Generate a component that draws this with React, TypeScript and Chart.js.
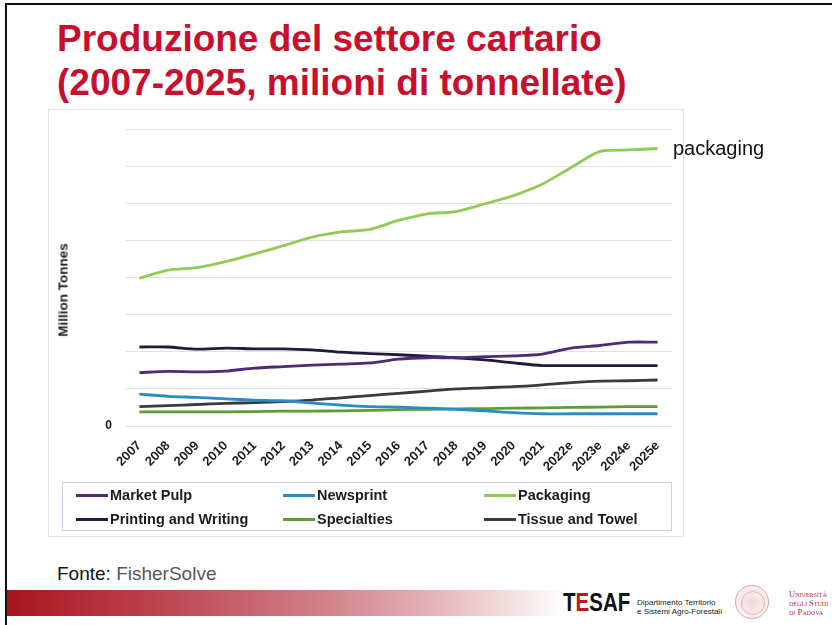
import React, { useEffect, useRef } from "react";
import { Chart, registerables } from "chart.js";

Chart.register(...registerables);

// ---- data (million tonnes) ----
const years = [
  "2007", "2008", "2009", "2010", "2011", "2012", "2013", "2014", "2015", "2016",
  "2017", "2018", "2019", "2020", "2021", "2022e", "2023e", "2024e", "2025e",
];
const marketPulp = [72, 73.5, 73, 74, 78, 80, 82, 83.5, 85, 90, 92, 92, 93.5, 94.5, 97, 105, 108.5, 113, 113];
const newsprint = [43, 40, 38.5, 36.5, 35, 34, 31, 28, 26, 25.5, 24, 22.5, 20.5, 18, 16.5, 16.5, 16.5, 16.5, 16.5];
const packaging = [199, 210, 213.5, 221.5, 232, 243, 254.5, 261.5, 265, 277, 286, 289, 299.5, 310.5, 326, 348.5, 370, 372, 374];
const printingWriting = [106.5, 106.5, 103.5, 105, 104, 104, 102.5, 99.5, 97.5, 96, 94, 92, 89, 85, 81.5, 81.5, 81.5, 81.5, 81.5];
const specialties = [19, 19, 19, 19, 19.5, 20, 20, 20.5, 21, 22, 22.5, 23, 23.5, 24, 24.5, 25, 25.5, 26, 26];
const tissueTowel = [26, 27.5, 29, 30.5, 31.5, 33, 35, 38, 41, 44, 47, 50, 51.5, 53, 55.5, 58.5, 60.5, 61, 62];
const yTicks = [0, 50, 100, 150, 200, 250, 300, 350, 400];

const seriesNames = ["Market Pulp", "Newsprint", "Packaging", "Printing and Writing", "Specialties", "Tissue and Towel"];
const seriesValues = [marketPulp, newsprint, packaging, printingWriting, specialties, tissueTowel];
const seriesColors = ["#4e2a78", "#2a8cc4", "#8fcb55", "#221a38", "#5c9e35", "#3a3a3a"];

const SANS = "'Liberation Sans', Arial, Helvetica, sans-serif";

export default function App() {
  const ref = useRef<HTMLCanvasElement>(null);

  useEffect(() => {
    if (!ref.current) return;
    const chart = new Chart(ref.current, {
      type: "line",
      data: {
        labels: years,
        datasets: seriesNames.map((name, i) => ({
          label: name,
          data: seriesValues[i],
          borderColor: seriesColors[i],
          backgroundColor: seriesColors[i],
          borderWidth: 2.8,
          pointRadius: 0,
          tension: 0.25,
          fill: false,
        })),
      },
      options: {
        responsive: false,
        animation: false,
        layout: { padding: { top: 17, right: 12, left: 0, bottom: 0 } },
        plugins: {
          legend: { display: false },
          tooltip: { enabled: false },
          title: { display: false },
        },
        scales: {
          x: {
            offset: true,
            grid: { display: false },
            border: { display: false },
            ticks: {
              autoSkip: false,
              maxRotation: 45,
              minRotation: 45,
              padding: 4,
              color: "#1c1c1c",
              font: { family: SANS, weight: "bold", size: 13 },
            },
            afterFit: (s: any) => {
              s.height = 114;
            },
          },
          y: {
            min: yTicks[0],
            max: yTicks[yTicks.length - 1],
            grid: { color: "#e2e2e2", drawTicks: false, lineWidth: 1 },
            border: { display: false },
            afterBuildTicks: (s: any) => {
              s.ticks = yTicks.map((v) => ({ value: v }));
            },
            ticks: {
              padding: 13,
              color: "#1c1c1c",
              font: { family: SANS, weight: "bold", size: 12 },
              callback: (v: any) => (Number(v) === 0 ? "0" : ""),
            },
            afterFit: (s: any) => {
              s.width = 77;
            },
          },
        },
      },
    });
    return () => chart.destroy();
  }, []);

  const legendCols = [13, 220, 421];
  const legendRows = [12, 36];

  return (
    <div
      style={{
        position: "fixed",
        left: 0,
        top: 0,
        width: 832,
        height: 625,
        background: "#ffffff",
        overflow: "hidden",
        fontFamily: SANS,
      }}
    >
      {/* slide frame */}
      <div
        style={{
          position: "absolute",
          left: 5,
          top: 3,
          width: 840,
          height: 640,
          borderTop: "2px solid #111",
          borderLeft: "2px solid #111",
        }}
      />

      {/* title */}
      <div
        style={{
          position: "absolute",
          left: 57,
          top: 17,
          fontSize: 37,
          lineHeight: "44px",
          fontWeight: "bold",
          color: "#c8102e",
          whiteSpace: "nowrap",
        }}
      >
        <div>Produzione del settore cartario</div>
        <div>(2007-2025, milioni di tonnellate)</div>
      </div>

      {/* chart picture frame */}
      <div
        style={{
          position: "absolute",
          left: 48,
          top: 109,
          width: 636,
          height: 428,
          border: "1px solid #e4e4e4",
          boxSizing: "border-box",
        }}
      />

      <canvas
        ref={ref}
        width={636}
        height={431}
        style={{ position: "absolute", left: 48, top: 109, width: 636, height: 431 }}
      />

      {/* y axis title */}
      <div
        style={{
          position: "absolute",
          left: 63,
          top: 290,
          transform: "translate(-50%, -50%) rotate(-90deg)",
          fontSize: 13.5,
          fontWeight: "bold",
          color: "#1c1c1c",
          whiteSpace: "nowrap",
        }}
      >
        Million Tonnes
      </div>

      {/* packaging annotation */}
      <div
        style={{
          position: "absolute",
          left: 673,
          top: 137,
          fontSize: 20,
          lineHeight: "23px",
          color: "#111",
          whiteSpace: "nowrap",
        }}
      >
        packaging
      </div>

      {/* legend */}
      <div
        style={{
          position: "absolute",
          left: 62,
          top: 482,
          width: 610,
          height: 49,
          border: "1px solid #d8cbe6",
          boxSizing: "border-box",
        }}
      >
        {seriesNames.map((name, i) => (
          <div
            key={name}
            style={{
              position: "absolute",
              left: legendCols[i % 3],
              top: legendRows[Math.floor(i / 3)] - 9,
              height: 18,
              display: "flex",
              alignItems: "center",
              whiteSpace: "nowrap",
            }}
          >
            <span
              style={{
                display: "inline-block",
                width: 32,
                height: 3,
                background: seriesColors[i],
                marginRight: 2,
              }}
            />
            <span style={{ fontSize: 14.5, fontWeight: "bold", color: "#1c1c1c" }}>{name}</span>
          </div>
        ))}
      </div>

      {/* source */}
      <div
        style={{
          position: "absolute",
          left: 57,
          top: 563,
          fontSize: 19,
          lineHeight: "22px",
          whiteSpace: "nowrap",
        }}
      >
        <span style={{ color: "#111" }}>Fonte: </span>
        <span style={{ color: "#555" }}>FisherSolve</span>
      </div>

      {/* red band */}
      <div
        style={{
          position: "absolute",
          left: 7,
          top: 590,
          width: 560,
          height: 26,
          background:
            "linear-gradient(to right, #a8141f 0%, #bf4a55 30%, #cf7d85 55%, #e6b9bd 78%, #ffffff 100%)",
        }}
      />

      {/* TESAF logo */}
      <div
        style={{
          position: "absolute",
          left: 563,
          top: 589,
          fontSize: 25,
          lineHeight: "26px",
          fontWeight: "bold",
          color: "#111",
          transform: "scaleX(0.82)",
          transformOrigin: "left center",
          whiteSpace: "nowrap",
        }}
      >
        T<span style={{ color: "#c0141e" }}>E</span>SAF
      </div>
      <div
        style={{
          position: "absolute",
          left: 637,
          top: 598,
          fontSize: 8,
          lineHeight: "9px",
          color: "#222",
          whiteSpace: "nowrap",
        }}
      >
        <div>Dipartimento Territorio</div>
        <div>e Sistemi Agro-Forestali</div>
      </div>

      {/* university seal */}
      <div
        style={{
          position: "absolute",
          left: 735,
          top: 585,
          width: 34,
          height: 34,
          borderRadius: "50%",
          border: "1px solid #dba3a7",
          boxSizing: "border-box",
          background: "radial-gradient(circle, #f3d6d8 0%, #fbeeee 60%, #ffffff 100%)",
        }}
      >
        <div
          style={{
            position: "absolute",
            left: 5,
            top: 5,
            width: 22,
            height: 22,
            borderRadius: "50%",
            border: "1px solid #e2b3b6",
          }}
        />
      </div>
      <div
        style={{
          position: "absolute",
          left: 789,
          top: 590,
          fontSize: 8.5,
          lineHeight: "9px",
          color: "#b02a35",
          fontFamily: "'Liberation Serif', 'DejaVu Serif', serif",
          fontVariant: "small-caps",
          whiteSpace: "nowrap",
        }}
      >
        <div>Università</div>
        <div>degli Studi</div>
        <div>di Padova</div>
      </div>
    </div>
  );
}
